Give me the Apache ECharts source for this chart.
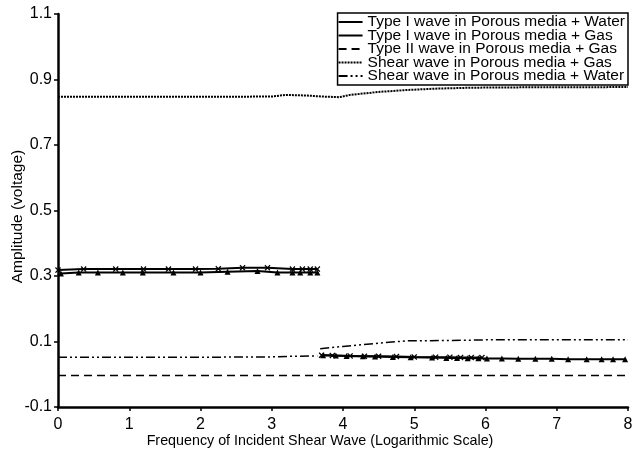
<!DOCTYPE html>
<html><head><meta charset="utf-8">
<script src="https://cdn.jsdelivr.net/npm/echarts@6/dist/echarts.min.js"></script>
<style>html,body{margin:0;padding:0;background:#fff}#c{width:632px;height:462px}</style>
</head><body><div id="c"></div>
<script>
const seriesNames = [
  'Type I wave in Porous media + Water',
  'Type I wave in Porous media + Gas',
  'Type II wave in Porous media + Gas',
  'Shear wave in Porous media + Gas',
  'Shear wave in Porous media + Water'
];
const yTicks = [-0.1, 0.1, 0.3, 0.5, 0.7, 0.9, 1.1];
const xTicks = [0, 1, 2, 3, 4, 5, 6, 7, 8];

// Type I + Water (x markers); null breaks the line
const type1WaterX = [0, 0.36, 0.81, 1.2, 1.55, 1.93, 2.25, 2.59, 2.94, 3.29, 3.43, 3.54, 3.64, null,
  3.7, 3.85, 4.1, 4.3, 4.5, 4.75, 5.0, 5.3, 5.5, 5.65, 5.8, 5.95];
const type1WaterY = [0.318, 0.321, 0.321, 0.321, 0.321, 0.321, 0.322, 0.325, 0.325, 0.321, 0.321, 0.321, 0.321, null,
  0.058, 0.057, 0.056, 0.055, 0.055, 0.054, 0.053, 0.052, 0.052, 0.051, 0.051, 0.051];

// Type I + Gas (triangles)
const type1GasX = [0.04, 0.29, 0.56, 0.91, 1.19, 1.62, 2.0, 2.38, 2.8, 3.08, 3.29, 3.4, 3.54, 3.64, null,
  3.72, 3.9, 4.05, 4.28, 4.45, 4.7, 4.95, 5.25, 5.45, 5.6, 5.75, 5.9, 6.02, 6.23, 6.46, 6.7, 6.93, 7.16, 7.42, 7.63, 7.79, 7.96];
const type1GasY = [0.308, 0.311, 0.311, 0.311, 0.311, 0.311, 0.311, 0.313, 0.315, 0.311, 0.311, 0.311, 0.311, 0.311, null,
  0.058, 0.057, 0.056, 0.055, 0.054, 0.053, 0.052, 0.051, 0.05, 0.05, 0.049, 0.049, 0.048, 0.048, 0.047, 0.047, 0.047, 0.046, 0.046, 0.046, 0.046, 0.046];

// Type II + Gas (dashed)
const type2GasX = [0, 1, 2, 3, 4, 5, 6, 7, 8];
const type2GasY = [-0.004, -0.004, -0.004, -0.004, -0.004, -0.004, -0.004, -0.004, -0.004];

// Shear + Gas (dotted)
const shearGasX = [0, 1, 2, 3, 3.2, 3.5, 3.7, 3.95, 4.1, 4.5, 4.9, 5.3, 5.8, 6.5, 7, 8];
const shearGasY = [0.847, 0.847, 0.847, 0.848, 0.853, 0.851, 0.848, 0.846, 0.853, 0.862, 0.868, 0.872, 0.875, 0.876, 0.876, 0.877];

// Shear + Water (dash-dot-dot)
const shearWaterX = [0, 1, 2, 3, 3.3, 3.64, null, 3.68, 4.0, 4.5, 4.9, 5.5, 6.0, 7.0, 8.0];
const shearWaterY = [0.052, 0.052, 0.052, 0.053, 0.055, 0.056, null, 0.078, 0.085, 0.095, 0.102, 0.103, 0.105, 0.105, 0.105];

function pairs(xs, ys) { return xs.map((x, i) => x === null ? [null, null] : [x, ys[i]]); }

const xMark = 'path://M0,1.5L1.5,0L5,3.5L8.5,0L10,1.5L6.5,5L10,8.5L8.5,10L5,6.5L1.5,10L0,8.5L3.5,5Z';
const FONT = 'Liberation Sans, Arial, sans-serif';

const chart = echarts.init(document.getElementById('c'), null, {renderer: 'canvas'});
chart.setOption({
  animation: false,
  backgroundColor: '#fff',
  grid: {left: 58, right: 4, top: 14, bottom: 55, containLabel: false, outerBoundsMode: 'none'},
  legend: {
    orient: 'vertical', right: 4, top: 13,
    padding: [1, 3, 1, 0],
    borderColor: '#000', borderWidth: 1.5,
    itemGap: -2.5, itemWidth: 24, itemHeight: 10,
    backgroundColor: '#fff',
    itemStyle: {opacity: 0},
    textStyle: {fontFamily: FONT, fontSize: 15.5, color: '#000', lineHeight: 14},
    data: seriesNames
  },
  xAxis: {
    type: 'value', min: 0, max: 8, interval: 1,
    name: 'Frequency of Incident Shear Wave (Logarithmic Scale)',
    nameLocation: 'middle', nameGap: 27, nameMoveOverlap: false,
    nameTextStyle: {fontFamily: FONT, fontSize: 14.3, color: '#000', padding: [0, 46, 0, 0]},
    axisLine: {show: true, onZero: false, lineStyle: {color: '#000', width: 2.5}},
    axisTick: {show: true, length: 4, lineStyle: {color: '#000', width: 1.5}},
    axisLabel: {fontFamily: FONT, fontSize: 16, color: '#000', margin: 10, showMaxLabel: true,
      customValues: xTicks},
    splitLine: {show: false}
  },
  yAxis: {
    type: 'value', min: -0.1, max: 1.1,
    name: 'Amplitude (voltage)', nameLocation: 'middle', nameGap: 32, nameMoveOverlap: false,
    nameTextStyle: {fontFamily: FONT, fontSize: 15.5, color: '#000', padding: [0, 12, 0, 0]},
    axisLine: {show: true, onZero: false, lineStyle: {color: '#000', width: 2.5}},
    axisTick: {show: true, length: 4, customValues: yTicks, lineStyle: {color: '#000', width: 1.5}},
    axisLabel: {fontFamily: FONT, fontSize: 16, color: '#000', margin: 6, customValues: yTicks,
      formatter: v => v.toFixed(1)},
    splitLine: {show: false}
  },
  series: [
    {name: seriesNames[0], type: 'line', data: pairs(type1WaterX, type1WaterY), connectNulls: false,
      symbol: xMark, symbolSize: 6, showAllSymbol: true,
      lineStyle: {color: '#000', width: 2}, itemStyle: {color: '#000'}},
    {name: seriesNames[1], type: 'line', data: pairs(type1GasX, type1GasY), connectNulls: false,
      symbol: 'triangle', symbolSize: 6, showAllSymbol: true,
      lineStyle: {color: '#000', width: 2}, itemStyle: {color: '#000'}},
    {name: seriesNames[2], type: 'line', data: pairs(type2GasX, type2GasY), symbol: 'none',
      lineStyle: {color: '#000', width: 1.5, type: [8, 5]}, itemStyle: {color: '#000'}},
    {name: seriesNames[3], type: 'line', data: pairs(shearGasX, shearGasY), symbol: 'none',
      lineStyle: {color: '#000', width: 2, type: [2, 1]}, itemStyle: {color: '#000'}},
    {name: seriesNames[4], type: 'line', data: pairs(shearWaterX, shearWaterY), symbol: 'none', connectNulls: false,
      lineStyle: {color: '#000', width: 1.5, type: [9, 3, 2, 3, 2, 3]}, itemStyle: {color: '#000'}}
  ]
});
</script></body></html>
